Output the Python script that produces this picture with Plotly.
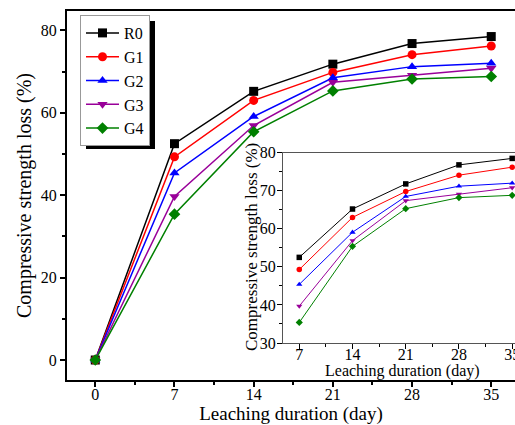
import plotly.graph_objects as go

days = [0, 7, 14, 21, 28, 35]
series_names = ["R0", "G1", "G2", "G3", "G4"]
R0 = [0, 52.5, 65.2, 71.8, 76.8, 78.5]
G1 = [0, 49.3, 63.0, 69.8, 74.1, 76.2]
G2 = [0, 45.4, 59.1, 68.5, 71.2, 72.0]
G3 = [0, 39.7, 56.9, 67.4, 69.1, 70.8]
G4 = [0, 35.4, 55.4, 65.3, 68.2, 68.8]
values = [R0, G1, G2, G3, G4]
colors = ["#000000", "#ff0000", "#0000ff", "#990099", "#008000"]
symbols = ["square", "circle", "triangle-up", "triangle-down", "diamond"]

FONT = "Liberation Serif"

fig = go.Figure()
for name, v, c, s in zip(series_names, values, colors, symbols):
    fig.add_trace(go.Scatter(x=days, y=v, name=name, mode="lines+markers",
                             line=dict(color=c, width=1.5),
                             marker=dict(symbol=s, size=9, color=c),
                             xaxis="x", yaxis="y", cliponaxis=False))
for name, v, c, s in zip(series_names, values, colors, symbols):
    fig.add_trace(go.Scatter(x=days[1:], y=v[1:], name=name, mode="lines+markers",
                             line=dict(color=c, width=1),
                             marker=dict(symbol=s, size=5.5, color=c),
                             xaxis="x2", yaxis="y2", showlegend=False, cliponaxis=False))

L, R, T, B = 67, 515, 11, 380
W, H = 515, 425
pw, ph = R - L, B - T

def px_x(p):
    return (p - L) / pw

def px_y(p):
    return (B - p) / ph

axis_common = dict(showline=True, linecolor="black", linewidth=2, ticks="outside",
                   tickcolor="black", tickwidth=1.5, ticklen=5, showgrid=False,
                   zeroline=False, tickfont=dict(family=FONT, size=16, color="black"))

fig.update_layout(
    width=W, height=H,
    margin=dict(l=L, r=W - R, t=T, b=H - B),
    paper_bgcolor="white", plot_bgcolor="white",
    font=dict(family=FONT, color="black"),
    showlegend=True,
    legend=dict(x=px_x(80), y=px_y(15), xanchor="left", yanchor="top",
                bgcolor="white", bordercolor="#999999", borderwidth=1,
                itemwidth=33,
                font=dict(family=FONT, size=16, color="black")),
    xaxis=dict(range=[-2.5, 37.1], tickmode="linear", tick0=0, dtick=7,
               minor=dict(dtick=3.5, tick0=0, ticks="outside", ticklen=3, tickcolor="black", tickwidth=1.5),
               mirror=True, automargin=False, ticklabelstandoff=-6, ticklabeloverflow="allow",
               title=dict(text="Leaching duration (day)", font=dict(family=FONT, size=19), standoff=21),
               domain=[0, 1], **axis_common),
    yaxis=dict(range=[-4.85, 84.7], tickmode="linear", tick0=0, dtick=20,
               minor=dict(dtick=10, tick0=0, ticks="outside", ticklen=3, tickcolor="black", tickwidth=1.5),
               automargin=False,
               title=dict(text="Compressive strength loss (%)", font=dict(family=FONT, size=20), standoff=4),
               domain=[0, 1], **axis_common),
    xaxis2=dict(range=[4.86, 35.37], tickmode="linear", tick0=0, dtick=7,
                minor=dict(dtick=3.5, tick0=0, ticks="outside", ticklen=3, tickcolor="black", tickwidth=1),
                mirror=True, automargin=False, anchor="y2", ticklabelstandoff=-8,
                ticklabeloverflow="allow",
                domain=[px_x(283), 1],
                showline=True, linecolor="#555555", linewidth=1, ticks="outside",
                tickcolor="black", tickwidth=1, ticklen=5, showgrid=False, zeroline=False,
                tickfont=dict(family=FONT, size=16, color="black")),
    yaxis2=dict(range=[30, 80], tickmode="linear", tick0=30, dtick=10,
                minor=dict(dtick=5, tick0=30, ticks="outside", ticklen=3, tickcolor="black", tickwidth=1),
                automargin=False, anchor="x2", ticklabelstandoff=-2,
                domain=[px_y(343), px_y(152.7)],
                showline=True, linecolor="#555555", linewidth=1, ticks="outside",
                tickcolor="black", tickwidth=1, ticklen=5, showgrid=False, zeroline=False,
                tickfont=dict(family=FONT, size=16, color="black")),
    annotations=[
        dict(text="Leaching duration (day)", xref="paper", yref="paper",
             x=px_x(402), y=px_y(371), xanchor="center", yanchor="middle",
             showarrow=False, font=dict(family=FONT, size=16, color="black")),
        dict(text="Compressive strength loss (%)", xref="paper", yref="paper",
             x=px_x(252), y=px_y(247), xanchor="center", yanchor="middle", textangle=-90,
             showarrow=False, font=dict(family=FONT, size=17, color="black")),
    ],
    shapes=[dict(type="rect", xref="paper", yref="paper",
                 x0=px_x(86), x1=px_x(155), y0=px_y(149), y1=px_y(21),
                 fillcolor="black", line=dict(width=0), layer="above")],
)

fig.write_html("out.html")
